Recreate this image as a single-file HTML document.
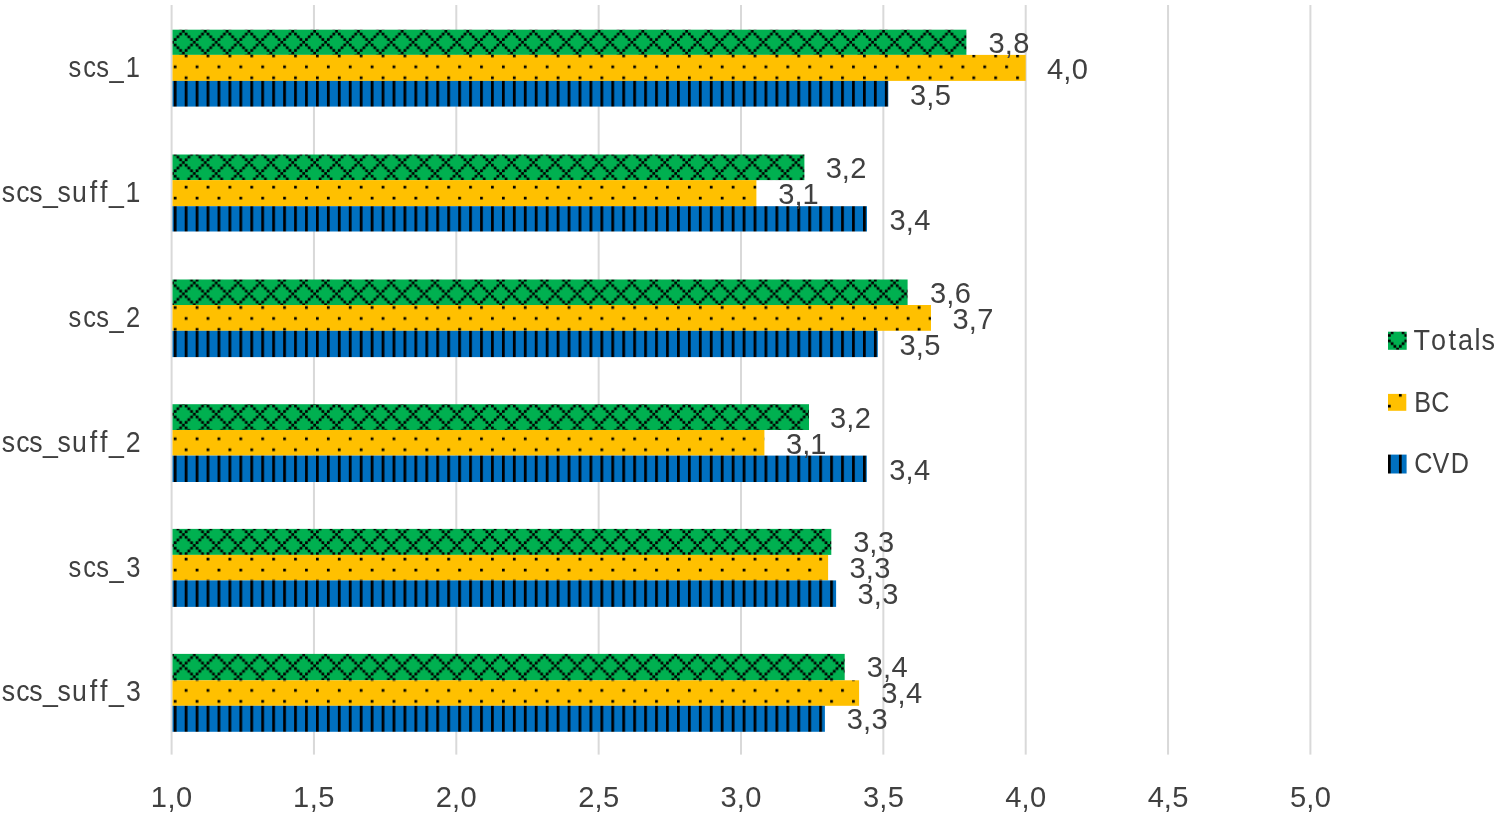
<!DOCTYPE html>
<html><head><meta charset="utf-8"><title>Chart</title>
<style>html,body{margin:0;padding:0;background:#fff;}svg{display:block;filter:blur(0.35px);}</style></head>
<body>
<svg width="1502" height="821" viewBox="0 0 1502 821">
<defs><pattern id="pg" patternUnits="userSpaceOnUse" x="173.780" y="29.930" width="21.880" height="21.880"><rect width="21.880" height="21.880" fill="#00b050"/><path d="M8.205 0.000h2.735v2.735h-2.735zM5.470 2.735h2.735v2.735h-2.735zM10.940 2.735h2.735v2.735h-2.735zM2.735 5.470h2.735v2.735h-2.735zM13.675 5.470h2.735v2.735h-2.735zM0.000 8.205h2.735v2.735h-2.735zM16.410 8.205h2.735v2.735h-2.735zM19.145 10.940h2.735v2.735h-2.735zM0.000 13.675h2.735v2.735h-2.735zM16.410 13.675h2.735v2.735h-2.735zM2.735 16.410h2.735v2.735h-2.735zM13.675 16.410h2.735v2.735h-2.735zM5.470 19.145h2.735v2.735h-2.735zM10.940 19.145h2.735v2.735h-2.735z" fill="#000"/></pattern><pattern id="py" patternUnits="userSpaceOnUse" x="173.780" y="29.930" width="21.880" height="21.880"><rect width="21.880" height="21.880" fill="#ffc000"/><path d="M10.940 2.735h2.735v2.735h-2.735zM0.000 13.675h2.735v2.735h-2.735z" fill="#000"/></pattern><pattern id="pb" patternUnits="userSpaceOnUse" x="173.780" y="29.930" width="21.880" height="21.880"><rect width="21.880" height="21.880" fill="#0070c0"/><rect x="0" y="0" width="2.735" height="21.880" fill="#000"/><rect x="10.940" y="0" width="2.735" height="21.880" fill="#000"/></pattern><pattern id="lg" patternUnits="userSpaceOnUse" x="1388.000" y="325.830" width="21.880" height="21.880"><rect width="21.880" height="21.880" fill="#00b050"/><path d="M8.205 0.000h2.735v2.735h-2.735zM5.470 2.735h2.735v2.735h-2.735zM10.940 2.735h2.735v2.735h-2.735zM2.735 5.470h2.735v2.735h-2.735zM13.675 5.470h2.735v2.735h-2.735zM0.000 8.205h2.735v2.735h-2.735zM16.410 8.205h2.735v2.735h-2.735zM19.145 10.940h2.735v2.735h-2.735zM0.000 13.675h2.735v2.735h-2.735zM16.410 13.675h2.735v2.735h-2.735zM2.735 16.410h2.735v2.735h-2.735zM13.675 16.410h2.735v2.735h-2.735zM5.470 19.145h2.735v2.735h-2.735zM10.940 19.145h2.735v2.735h-2.735z" fill="#000"/></pattern><pattern id="ly" patternUnits="userSpaceOnUse" x="1388.000" y="391.165" width="21.880" height="21.880"><rect width="21.880" height="21.880" fill="#ffc000"/><path d="M10.940 2.735h2.735v2.735h-2.735zM0.000 13.675h2.735v2.735h-2.735z" fill="#000"/></pattern><pattern id="lb" patternUnits="userSpaceOnUse" x="1388.000" y="454.600" width="21.880" height="21.880"><rect width="21.880" height="21.880" fill="#0070c0"/><rect x="0" y="0" width="2.735" height="21.880" fill="#000"/><rect x="10.940" y="0" width="2.735" height="21.880" fill="#000"/></pattern></defs>
<rect width="1502" height="821" fill="#fff"/>
<rect x="170.60" y="5.0" width="2.0" height="749.60" fill="#d9d9d9"/>
<rect x="312.95" y="5.0" width="2.0" height="749.60" fill="#d9d9d9"/>
<rect x="455.30" y="5.0" width="2.0" height="749.60" fill="#d9d9d9"/>
<rect x="597.65" y="5.0" width="2.0" height="749.60" fill="#d9d9d9"/>
<rect x="740.00" y="5.0" width="2.0" height="749.60" fill="#d9d9d9"/>
<rect x="882.35" y="5.0" width="2.0" height="749.60" fill="#d9d9d9"/>
<rect x="1024.70" y="5.0" width="2.0" height="749.60" fill="#d9d9d9"/>
<rect x="1167.05" y="5.0" width="2.0" height="749.60" fill="#d9d9d9"/>
<rect x="1309.40" y="5.0" width="2.0" height="749.60" fill="#d9d9d9"/>
<rect x="172.5" y="29.70" width="793.90" height="25.20" fill="url(#pg)"/>
<rect x="172.5" y="54.90" width="853.20" height="26.00" fill="url(#py)"/>
<rect x="172.5" y="80.90" width="715.80" height="25.70" fill="url(#pb)"/>
<rect x="172.5" y="154.50" width="631.90" height="25.60" fill="url(#pg)"/>
<rect x="172.5" y="180.10" width="583.90" height="26.10" fill="url(#py)"/>
<rect x="172.5" y="206.20" width="694.50" height="25.30" fill="url(#pb)"/>
<rect x="172.5" y="279.50" width="735.10" height="25.50" fill="url(#pg)"/>
<rect x="172.5" y="305.00" width="758.50" height="25.80" fill="url(#py)"/>
<rect x="172.5" y="330.80" width="705.30" height="26.30" fill="url(#pb)"/>
<rect x="172.5" y="404.20" width="636.50" height="25.80" fill="url(#pg)"/>
<rect x="172.5" y="430.00" width="591.90" height="25.60" fill="url(#py)"/>
<rect x="172.5" y="455.60" width="694.30" height="26.40" fill="url(#pb)"/>
<rect x="172.5" y="528.90" width="658.80" height="26.00" fill="url(#pg)"/>
<rect x="172.5" y="554.90" width="655.60" height="25.50" fill="url(#py)"/>
<rect x="172.5" y="580.40" width="663.60" height="26.50" fill="url(#pb)"/>
<rect x="172.5" y="653.90" width="672.20" height="26.40" fill="url(#pg)"/>
<rect x="172.5" y="680.30" width="686.60" height="25.50" fill="url(#py)"/>
<rect x="172.5" y="705.80" width="652.40" height="26.00" fill="url(#pb)"/>
<g font-family="'Liberation Sans', sans-serif" font-size="30.0" fill="#404040">
<text transform="translate(0 53.20) scale(0.9700 1)" x="1019.17 1035.90 1044.64" dy="0 0.8 -0.8">3,8</text>
<text transform="translate(0 79.20) scale(0.9700 1)" x="1079.33 1096.06 1104.79" dy="0 0.8 -0.8">4,0</text>
<text transform="translate(0 105.20) scale(0.9700 1)" x="938.24 954.98 963.71" dy="0 0.8 -0.8">3,5</text>
<text transform="translate(0 178.02) scale(0.9700 1)" x="851.18 867.91 876.65" dy="0 0.8 -0.8">3,2</text>
<text transform="translate(0 204.02) scale(0.9700 1)" x="802.27 819.00 827.33" dy="0 0.8 -0.8">3,1</text>
<text transform="translate(0 230.02) scale(0.9700 1)" x="916.96 933.69 942.52" dy="0 0.8 -0.8">3,4</text>
<text transform="translate(0 302.84) scale(0.9700 1)" x="958.81 975.54 984.18" dy="0 0.8 -0.8">3,6</text>
<text transform="translate(0 328.84) scale(0.9700 1)" x="981.90 998.64 1007.37" dy="0 0.8 -0.8">3,7</text>
<text transform="translate(0 354.84) scale(0.9700 1)" x="927.42 944.15 952.89" dy="0 0.8 -0.8">3,5</text>
<text transform="translate(0 427.66) scale(0.9700 1)" x="855.77 872.50 881.24" dy="0 0.8 -0.8">3,2</text>
<text transform="translate(0 453.66) scale(0.9700 1)" x="810.36 827.09 835.43" dy="0 0.8 -0.8">3,1</text>
<text transform="translate(0 479.66) scale(0.9700 1)" x="916.75 933.48 942.32" dy="0 0.8 -0.8">3,4</text>
<text transform="translate(0 552.48) scale(0.9700 1)" x="879.53 896.26 905.10" dy="0 0.8 -0.8">3,3</text>
<text transform="translate(0 578.48) scale(0.9700 1)" x="875.82 892.55 901.39" dy="0 0.8 -0.8">3,3</text>
<text transform="translate(0 604.48) scale(0.9700 1)" x="884.02 900.75 909.59" dy="0 0.8 -0.8">3,3</text>
<text transform="translate(0 677.30) scale(0.9700 1)" x="893.50 910.23 919.07" dy="0 0.8 -0.8">3,4</text>
<text transform="translate(0 703.30) scale(0.9700 1)" x="908.50 925.23 934.07" dy="0 0.8 -0.8">3,4</text>
<text transform="translate(0 729.30) scale(0.9700 1)" x="872.99 889.72 898.55" dy="0 0.8 -0.8">3,3</text>
<text transform="translate(0 77.30) scale(0.8500 1)" x="80.66 97.89 113.25 128.94 147.90">scs_1</text>
<text transform="translate(0 202.12) scale(0.8900 1)" x="1.87 18.37 32.99 48.27 64.73 80.91 100.77 112.45 122.37 141.03">scs_suff_1</text>
<text transform="translate(0 326.94) scale(0.8500 1)" x="80.66 97.89 113.25 128.94 148.30">scs_2</text>
<text transform="translate(0 451.76) scale(0.8900 1)" x="1.87 18.37 32.99 48.27 64.73 80.91 100.77 112.45 122.37 141.43">scs_suff_2</text>
<text transform="translate(0 576.58) scale(0.8500 1)" x="80.66 97.89 113.25 128.94 148.40">scs_3</text>
<text transform="translate(0 701.40) scale(0.8900 1)" x="1.87 18.37 32.99 48.27 64.73 80.91 100.77 112.45 122.37 141.53">scs_suff_3</text>
<text transform="translate(0 807.00) scale(0.9700 1)" x="155.37 172.60 181.34" dy="0 0.8 -0.8">1,0</text>
<text transform="translate(0 807.00) scale(0.9700 1)" x="302.13 319.36 328.09" dy="0 0.8 -0.8">1,5</text>
<text transform="translate(0 807.00) scale(0.9700 1)" x="449.28 466.11 474.85" dy="0 0.8 -0.8">2,0</text>
<text transform="translate(0 807.00) scale(0.9700 1)" x="596.03 612.86 621.60" dy="0 0.8 -0.8">2,5</text>
<text transform="translate(0 807.00) scale(0.9700 1)" x="742.88 759.61 768.35" dy="0 0.8 -0.8">3,0</text>
<text transform="translate(0 807.00) scale(0.9700 1)" x="889.64 906.37 915.10" dy="0 0.8 -0.8">3,5</text>
<text transform="translate(0 807.00) scale(0.9700 1)" x="1036.39 1053.12 1061.86" dy="0 0.8 -0.8">4,0</text>
<text transform="translate(0 807.00) scale(0.9700 1)" x="1183.14 1199.87 1208.61" dy="0 0.8 -0.8">4,5</text>
<text transform="translate(0 807.00) scale(0.9700 1)" x="1329.79 1346.62 1355.36" dy="0 0.8 -0.8">5,0</text>
<text transform="translate(0 350.30) scale(0.9000 1)" x="1570.52 1590.15 1609.59 1619.94 1638.37 1646.16">Totals</text>
<text transform="translate(0 411.60) scale(0.8400 1)" x="1683.66 1703.76">BC</text>
<text transform="translate(0 473.00) scale(0.8400 1)" x="1683.76 1705.42 1727.16">CVD</text>
</g>
<rect x="1388.0" y="331.7" width="18.7" height="18.1" fill="url(#lg)"/>
<rect x="1388.0" y="393.9" width="18.3" height="16.9" fill="url(#ly)"/>
<rect x="1388.0" y="454.6" width="18.6" height="18.9" fill="url(#lb)"/>
</svg>
</body></html>
